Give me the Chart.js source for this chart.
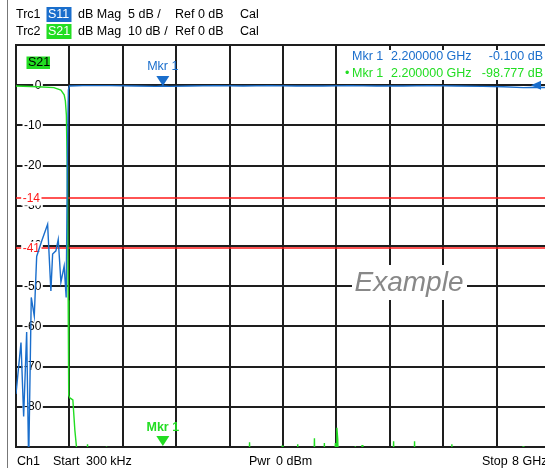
<!DOCTYPE html>
<html>
<head>
<meta charset="utf-8">
<script src="https://cdn.jsdelivr.net/npm/chart.js@4.4.1/dist/chart.umd.min.js"></script>
<style>
    html, body { margin: 0; padding: 0; background: #ffffff; overflow: hidden; }
    #wrap { position: relative; width: 560px; height: 468px; }
</style>
</head>
<body>
<div id="wrap"><canvas id="vnaChart"></canvas></div>
<script>
// Trc1 S11, 5 dB/div (frequency in GHz, value in dB)
const s11Freq = [0.0003, 0.075, 0.115, 0.16, 0.19, 0.229, 0.274, 0.31, 0.384, 0.474, 0.523, 0.549,
    0.598, 0.633, 0.673, 0.722, 0.752, 0.772, 0.785, 0.80, 1.0, 1.4, 1.8, 2.1, 2.2, 2.3, 2.6, 3.0,
    3.4, 3.8, 4.2, 4.6, 5.0, 5.4, 5.8, 6.2, 6.6, 7.0, 7.3, 7.6, 7.8, 8.0];
const s11Db = [-38.4, -32.0, -41.2, -30.7, -47.0, -26.4, -28.7, -21.3, -19.4, -17.3, -25.6, -21.0,
    -20.6, -19.2, -24.5, -22.5, -26.4, -8.0, -0.6, -0.1, -0.05, -0.05, -0.1, -0.15, -0.1, -0.15, -0.1, -0.05,
    -0.1, -0.05, -0.1, -0.1, -0.05, -0.1, -0.1, -0.05, -0.1, -0.15, -0.2, -0.3, -0.25, -0.3];

// Trc2 S21, 10 dB/div
const s21Freq = [0.0003, 0.33, 0.568, 0.673, 0.722, 0.74, 0.755, 0.767, 0.773, 0.782, 0.79, 0.807,
    0.852, 0.882, 0.908, 0.93, 1.0, 1.06, 1.072, 1.084, 1.2, 1.344, 1.356, 1.368, 1.6, 2.0, 2.2, 2.6,
    3.0, 3.3, 3.487, 3.499, 3.511, 3.8, 3.976, 3.988, 4.0, 4.209, 4.221, 4.233, 4.459, 4.471, 4.483,
    4.608, 4.62, 4.632, 4.77, 4.785, 4.797, 4.807, 4.82, 4.835, 5.07, 5.084, 5.098, 5.172, 5.184, 5.196,
    5.4, 5.645, 5.657, 5.669, 5.959, 5.971, 5.983, 6.2, 6.518, 6.53, 6.542, 7.0, 7.584, 7.596, 7.608, 8.0];
const s21Db = [-0.2, -0.4, -0.6, -1.2, -2.4, -3.9, -7.4, -20, -28.6, -53.5, -77.1, -77.8,
    -78.3, -85.8, -90.3, -97, -99, -98, -89.3, -98, -100, -99, -89.9, -99, -98, -100, -98.8, -99,
    -100, -98, -99, -88.8, -99, -100, -99, -89.6, -99, -99, -89.3, -99, -99, -87.8, -99,
    -99, -89.0, -99, -97, -89.0, -92, -85.2, -88, -98, -99, -89.8, -99, -99, -89.5, -99,
    -100, -99, -88.6, -99, -99, -88.6, -99, -100, -99, -89.3, -99, -100, -99, -89.8, -99, -99];

const startGHz = 0.0003;
const stopGHz = 8;
const xDivisions = 10;
const s21Ticks = [10, 0, -10, -20, -30, -40, -50, -60, -70, -80, -90];

// limit lines: label, position, axis
const limitLabels = ['-14', '-41'];
const limitValues = [-14, -40.4];
const limitAxes = ['yS11', 'y'];

const markerFreq = 2.2;
const markerS11 = -0.1;
const markerS21 = -98.777;

const BLUE = '#1a6ecc';
const GREEN = '#22dd22';
const GRID = '#1e1e1e';
const FONT = '"Liberation Sans", Arial, sans-serif';

function pts(xs, ys) {
    return xs.map((x, i) => ({ x: x, y: ys[i] }));
}

function boxText(ctx, text, x, y, align, color, bg, pad) {
    const w = ctx.measureText(text).width;
    let left = x;
    if (align === 'right') left = x - w;
    if (align === 'center') left = x - w / 2;
    ctx.fillStyle = bg;
    ctx.fillRect(left - pad, y - 7, w + pad * 2, 14);
    ctx.fillStyle = color;
    ctx.textAlign = align;
    ctx.fillText(text, x, y);
}

function triangleDown(ctx, x, tipY, color) {
    ctx.fillStyle = color;
    ctx.beginPath();
    ctx.moveTo(x - 6.5, tipY - 10);
    ctx.lineTo(x + 6.5, tipY - 10);
    ctx.lineTo(x, tipY);
    ctx.closePath();
    ctx.fill();
}

const vnaOverlay = {
    id: 'vnaOverlay',
    beforeDatasetsDraw(chart) {
        const ctx = chart.ctx;
        const a = chart.chartArea;
        ctx.save();
        ctx.font = '12px ' + FONT;
        ctx.textBaseline = 'middle';
        limitValues.forEach((v, i) => {
            const y = Math.round(chart.scales[limitAxes[i]].getPixelForValue(v));
            ctx.strokeStyle = '#ff1a1a';
            ctx.lineWidth = 1.5;
            ctx.beginPath();
            ctx.moveTo(a.left, y);
            ctx.lineTo(a.right, y);
            ctx.stroke();
            boxText(ctx, limitLabels[i], 40, y + 0.5, 'right', '#ff1a1a', '#ffffff', 1.5);
        });
        ctx.restore();
    },
    afterDraw(chart) {
        const ctx = chart.ctx;
        const a = chart.chartArea;
        const xs = chart.scales.x;
        ctx.save();

        // window frame line
        ctx.strokeStyle = '#777777';
        ctx.lineWidth = 1;
        ctx.beginPath();
        ctx.moveTo(7.5, 0);
        ctx.lineTo(7.5, 468);
        ctx.stroke();

        ctx.textBaseline = 'middle';
        ctx.font = '12.5px ' + FONT;

        // header rows
        const rows = [
            { trc: 'Trc1', s: 'S11', bg: BLUE, scale: '5 dB /', y: 14.5 },
            { trc: 'Trc2', s: 'S21', bg: GREEN, scale: '10 dB /', y: 31.5 }
        ];
        rows.forEach(r => {
            ctx.textAlign = 'left';
            ctx.fillStyle = '#000000';
            ctx.fillText(r.trc, 16, r.y);
            ctx.fillStyle = r.bg;
            ctx.fillRect(46.5, r.y - 7.5, 25, 15);
            ctx.fillStyle = '#ffffff';
            ctx.fillText(r.s, 48, r.y);
            ctx.fillStyle = '#000000';
            ctx.fillText('dB Mag', 78, r.y);
            ctx.fillText(r.scale, 128, r.y);
            ctx.fillText('Ref 0 dB', 175, r.y);
            ctx.fillText('Cal', 240, r.y);
        });

        // footer
        ctx.fillStyle = '#000000';
        ctx.fillText('Ch1', 17, 461.5);
        ctx.fillText('Start', 53, 461.5);
        ctx.fillText('300 kHz', 86, 461.5);
        ctx.fillText('Pwr', 249, 461.5);
        ctx.fillText('0 dBm', 276, 461.5);
        ctx.fillText('Stop', 482, 461.5);
        ctx.fillText('8 GHz', 512, 461.5);

        // active trace label
        ctx.fillStyle = GREEN;
        ctx.fillRect(26.5, 56.5, 23.5, 12.5);
        ctx.fillStyle = '#000000';
        ctx.fillText('S21', 28, 63);

        // marker readout
        ctx.fillStyle = '#ffffff';
        ctx.fillRect(339, 50, 215, 30);
        const fTxt = markerFreq.toFixed(6) + ' GHz';
        ctx.fillStyle = BLUE;
        ctx.fillText('Mkr 1', 352, 57);
        ctx.fillText(fTxt, 391, 57);
        ctx.textAlign = 'right';
        ctx.fillText(markerS11.toFixed(3) + ' dB', 543, 57);
        ctx.fillStyle = GREEN;
        ctx.textAlign = 'left';
        ctx.fillText('\u2022', 345, 73.5);
        ctx.fillText('Mkr 1', 352, 73.5);
        ctx.fillText(fTxt, 391, 73.5);
        ctx.textAlign = 'right';
        ctx.fillText(markerS21.toFixed(3) + ' dB', 543, 73.5);

        // reference arrow at the right edge
        const yRef = chart.scales.y.getPixelForValue(0);
        ctx.fillStyle = BLUE;
        ctx.beginPath();
        ctx.moveTo(531, yRef);
        ctx.lineTo(541, yRef - 4.5);
        ctx.lineTo(541, yRef + 4.5);
        ctx.closePath();
        ctx.fill();

        // markers on the traces
        const mx = xs.getPixelForValue(markerFreq);
        const y11 = Math.min(a.bottom, chart.scales.yS11.getPixelForValue(markerS11));
        triangleDown(ctx, mx, y11, BLUE);
        ctx.textAlign = 'center';
        ctx.fillStyle = BLUE;
        ctx.fillText('Mkr 1', mx, y11 - 19);
        const y21 = Math.min(a.bottom - 1, chart.scales.y.getPixelForValue(markerS21));
        triangleDown(ctx, mx, y21, GREEN);
        ctx.font = 'bold 12.5px ' + FONT;
        ctx.fillStyle = GREEN;
        ctx.fillText('Mkr 1', mx, y21 - 18);

        // watermark
        ctx.fillStyle = '#ffffff';
        ctx.fillRect(352, 265, 115, 35);
        ctx.font = 'italic 28px ' + FONT;
        ctx.fillStyle = '#888888';
        ctx.textAlign = 'center';
        ctx.fillText('Example', 409, 283);

        ctx.restore();
    }
};

const ctx = document.getElementById('vnaChart').getContext('2d');

new Chart(ctx, {
    type: 'line',
    data: {
        datasets: [{
            label: 'S11',
            data: pts(s11Freq, s11Db),
            yAxisID: 'yS11',
            borderColor: BLUE,
            borderWidth: 1.4,
            pointRadius: 0,
            tension: 0,
            fill: false
        }, {
            label: 'S21',
            data: pts(s21Freq, s21Db),
            yAxisID: 'y',
            borderColor: GREEN,
            borderWidth: 1.4,
            pointRadius: 0,
            tension: 0,
            fill: false
        }]
    },
    options: {
        responsive: true,
        maintainAspectRatio: false,
        animation: false,
        layout: { padding: { left: 0, top: 45, right: 10, bottom: 21 } },
        plugins: {
            legend: { display: false },
            tooltip: { enabled: false }
        },
        scales: {
            x: {
                type: 'linear',
                min: startGHz,
                max: stopGHz,
                afterBuildTicks: axis => {
                    const step = (stopGHz - startGHz) / xDivisions;
                    const ticks = [];
                    for (let i = 0; i <= xDivisions; i++) ticks.push({ value: startGHz + i * step });
                    axis.ticks = ticks;
                },
                grid: { color: GRID, lineWidth: 2, drawTicks: false },
                border: { color: GRID, width: 2 },
                ticks: { display: false }
            },
            y: {
                type: 'linear',
                position: 'left',
                min: -90,
                max: 10,
                afterBuildTicks: axis => {
                    axis.ticks = s21Ticks.map(v => ({ value: v }));
                },
                grid: { color: GRID, lineWidth: 2, drawTicks: false },
                border: { color: GRID, width: 2 },
                ticks: {
                    mirror: true,
                    crossAlign: 'far',
                    padding: 8,
                    color: '#000000',
                    font: { family: FONT, size: 12 },
                    showLabelBackdrop: c => c.tick && c.tick.value !== 10 && c.tick.value !== -90,
                    backdropColor: '#ffffff',
                    backdropPadding: { left: 1.5, right: 1.5, top: 0, bottom: 0 },
                    callback: v => (v === 10 || v === -90) ? '' : String(v)
                }
            },
            yS11: {
                type: 'linear',
                display: false,
                min: -45,
                max: 5
            }
        }
    },
    plugins: [vnaOverlay]
});
</script>
</body>
</html>
